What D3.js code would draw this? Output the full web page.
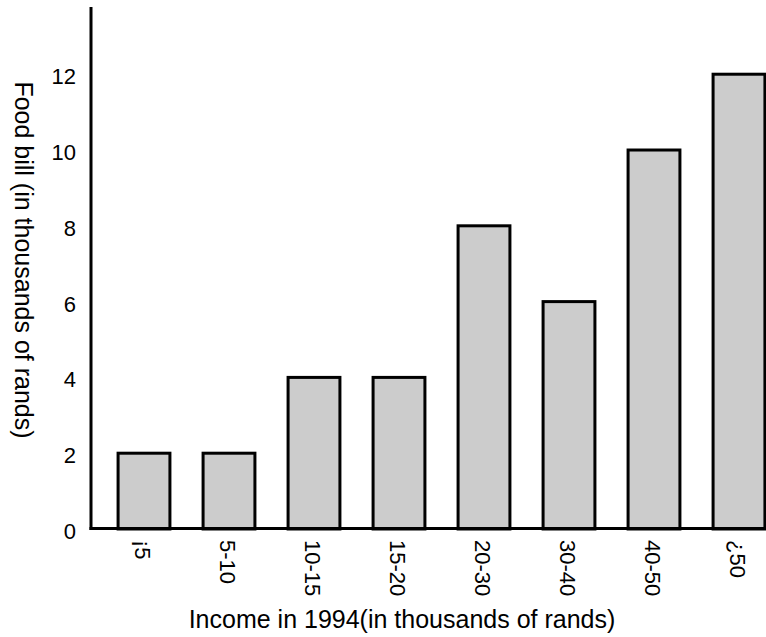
<!DOCTYPE html>
<html>
<head>
<meta charset="utf-8">
<script src="https://cdn.jsdelivr.net/npm/d3@7"></script>
<style>
  html, body { margin: 0; padding: 0; background: #fff; }
  svg { display: block; }
  text { font-family: "Liberation Sans", Arial, sans-serif; fill: #000; }
</style>
</head>
<body>
<div id="chart"></div>
<script>
// ---- data ----
const categories = ["¡5", "5-10", "10-15", "15-20", "20-30", "30-40", "40-50", "¿50"];
const foodBill = [2, 2, 4, 4, 8, 6, 10, 12];
const yTicks = [0, 2, 4, 6, 8, 10, 12];
const xTitle = "Income in 1994(in thousands of rands)";
const yTitle = "Food bill (in thousands of rands)";

const W = 766, H = 637;
const svg = d3.select("#chart").append("svg")
  .attr("width", W).attr("height", H);

const axisX = 91, baseY = 528.5;

const x = d3.scaleBand()
  .domain(categories)
  .range([101.5, 781.5])
  .paddingInner(0.39)
  .paddingOuter(0.195);

const y = d3.scaleLinear()
  .domain([0, 13.8])
  .range([529, 6]);

// bars
svg.append("g").selectAll("rect")
  .data(categories.map((c, i) => ({ c, v: foodBill[i] })))
  .join("rect")
  .attr("x", d => x(d.c))
  .attr("y", d => y(d.v))
  .attr("width", x.bandwidth())
  .attr("height", d => y(0) - y(d.v))
  .attr("fill", "#cccccc")
  .attr("stroke", "#000")
  .attr("stroke-width", 3);

// axes lines
svg.append("line")
  .attr("x1", axisX).attr("x2", axisX)
  .attr("y1", y(y.domain()[1]) + 1).attr("y2", baseY + 1.5)
  .attr("stroke", "#000").attr("stroke-width", 3);
svg.append("line")
  .attr("x1", axisX - 1.5).attr("x2", W)
  .attr("y1", baseY).attr("y2", baseY)
  .attr("stroke", "#000").attr("stroke-width", 3);

// y tick labels
svg.append("g").selectAll("text")
  .data(yTicks)
  .join("text")
  .attr("x", 76)
  .attr("y", d => y(d) + 2.5)
  .attr("text-anchor", "end")
  .attr("dominant-baseline", "central")
  .style("font-size", "22px")
  .text(d => d);

// x tick labels (rotated)
svg.append("g").selectAll("text")
  .data(categories)
  .join("text")
  .attr("transform", d => `translate(${x(d) + x.bandwidth() / 2 - 2},540) rotate(90)`)
  .attr("text-anchor", "start")
  .attr("dominant-baseline", "central")
  .style("font-size", "22px")
  .text(d => d);

// axis titles
svg.append("text")
  .attr("x", 402).attr("y", 628)
  .attr("text-anchor", "middle")
  .style("font-size", "25px")
  .text(xTitle);

svg.append("text")
  .attr("transform", "translate(15,260) rotate(90)")
  .attr("text-anchor", "middle")
  .style("font-size", "25px")
  .text(yTitle);
</script>
</body>
</html>
